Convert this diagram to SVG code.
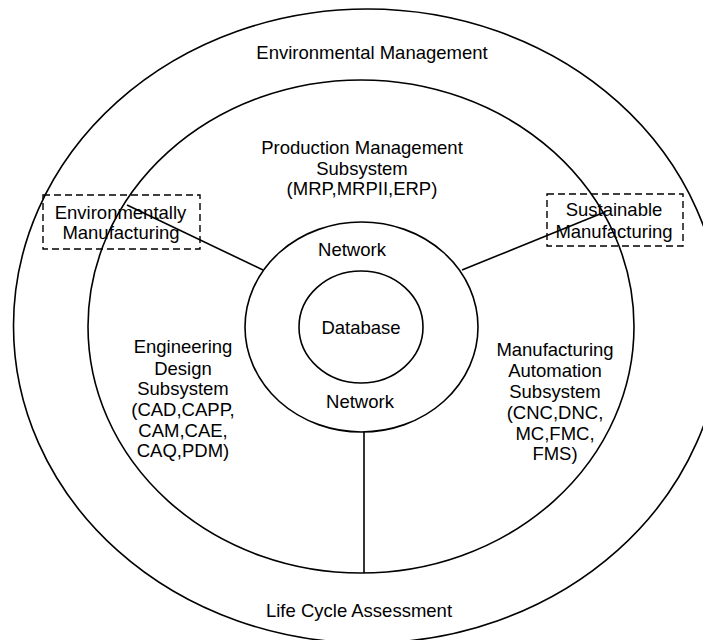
<svg xmlns="http://www.w3.org/2000/svg" width="703" height="640" viewBox="0 0 703 640">
<style>
.ring{fill:none;stroke:#000;stroke-width:1.6}
.box{fill:none;stroke:#000;stroke-width:1.4;stroke-dasharray:7 4}
.ln{stroke:#000;stroke-width:1.6;fill:none}
text{font-family:"Liberation Sans",Arial,sans-serif;font-size:18.5px;fill:#000;text-anchor:middle}
</style>
<rect width="703" height="640" fill="#fff"/>
<g id="outer"><ellipse class="ring" cx="367.5" cy="326" rx="354" ry="317"/><text x="372" y="58.5">Environmental Management</text><text x="359" y="616.5">Life Cycle Assessment</text></g>
<g id="middle"><ellipse class="ring" cx="361" cy="326.5" rx="273" ry="246.5"/><text x="362" y="153.5">Production Management</text><text x="362" y="174.5">Subsystem</text><text x="362" y="194.5">(MRP,MRPII,ERP)</text></g>
<g id="engineering"><text x="183" y="352.5">Engineering</text><text x="183" y="374.5">Design</text><text x="183" y="394.5">Subsystem</text><text x="183" y="415.5">(CAD,CAPP,</text><text x="183" y="436.5">CAM,CAE,</text><text x="183" y="456.5">CAQ,PDM)</text></g>
<g id="automation"><text x="555" y="355.5">Manufacturing</text><text x="555" y="376.5">Automation</text><text x="555" y="397.5">Subsystem</text><text x="555" y="418.5">(CNC,DNC,</text><text x="555" y="439.5">MC,FMC,</text><text x="555" y="459.5">FMS)</text></g>
<g id="network"><ellipse class="ring" cx="361.5" cy="327" rx="116.5" ry="105"/><text x="352" y="255.5">Network</text><text x="360" y="407.5">Network</text></g>
<g id="database"><ellipse class="ring" cx="361" cy="327" rx="62" ry="56"/><text x="361" y="333.5">Database</text></g>
<g id="env-manufacturing"><rect class="box" x="43" y="195" width="157" height="54"/><text x="120.5" y="218.5">Environmentally</text><text x="121" y="238.5">Manufacturing</text></g>
<g id="sus-manufacturing"><rect class="box" x="547" y="194" width="136" height="52"/><text x="614" y="215.5">Sustainable</text><text x="614" y="237.5">Manufacturing</text></g>
<g id="connectors">
<line class="ln" x1="127" y1="205" x2="263" y2="270"/>
<line class="ln" x1="462" y1="270" x2="605" y2="212"/>
<line class="ln" x1="364" y1="432" x2="364" y2="573"/>
</g>
</svg>
